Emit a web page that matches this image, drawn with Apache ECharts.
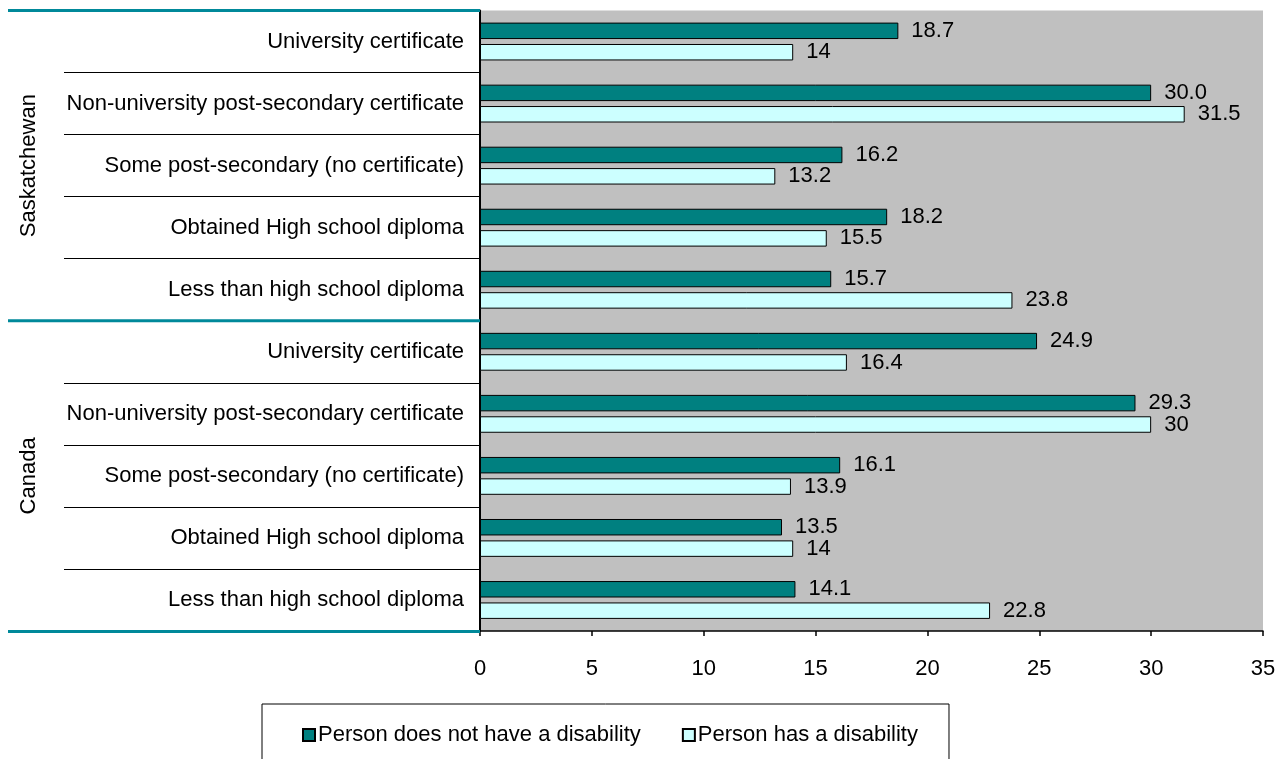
<!DOCTYPE html>
<html><head><meta charset="utf-8">
<script src="https://cdn.jsdelivr.net/npm/echarts@6/dist/echarts.min.js"></script>
<style>html,body{margin:0;padding:0;background:#fff}#c{width:1284px;height:759px}</style>
</head><body><div id="c"></div>
<script>
const groups = ['Saskatchewan', 'Canada'];
const categories = [
  'University certificate',
  'Non-university post-secondary certificate',
  'Some post-secondary (no certificate)',
  'Obtained High school diploma',
  'Less than high school diploma',
  'University certificate',
  'Non-university post-secondary certificate',
  'Some post-secondary (no certificate)',
  'Obtained High school diploma',
  'Less than high school diploma'
];
const noDisability = [18.7, 30.0, 16.2, 18.2, 15.7, 24.9, 29.3, 16.1, 13.5, 14.1];
const hasDisability = [14, 31.5, 13.2, 15.5, 23.8, 16.4, 30, 13.9, 14, 22.8];
const xTicks = [0, 5, 10, 15, 20, 25, 30, 35];

const FONT = 'Liberation Sans, Arial, sans-serif';
const chart = echarts.init(document.getElementById('c'), null, {renderer: 'canvas'});
chart.setOption({
  animation: false,
  textStyle: {fontFamily: FONT},
  grid: {left: 480, right: 21, top: 10.5, bottom: 128, show: true, backgroundColor: '#C0C0C0', borderWidth: 0},
  legend: {
    left: 262, top: 704,
    padding: [20, 31, 40, 40],
    borderColor: '#000', borderWidth: 1,
    itemWidth: 12, itemHeight: 12, itemGap: 41,
    icon: 'rect',
    textStyle: {fontSize: 22, color: '#000', fontFamily: FONT, padding: [0, 0, 0, -2]},
    data: ['Person does not have a disability', 'Person has a disability']
  },
  xAxis: {
    type: 'value', min: xTicks[0], max: xTicks[xTicks.length - 1], interval: 5,
    axisLine: {show: true, lineStyle: {color: '#000', width: 1.5}},
    axisTick: {show: true, length: 5, lineStyle: {color: '#000', width: 1.5}},
    axisLabel: {fontSize: 22, color: '#000', margin: 27, fontFamily: FONT},
    splitLine: {show: false}
  },
  yAxis: [
    {
      type: 'category', inverse: true, data: categories,
      axisLine: {show: true, lineStyle: {color: '#000', width: 2}},
      axisTick: {show: true, length: 416, lineStyle: {color: '#000', width: 1}},
      axisLabel: {fontSize: 22, color: '#000', margin: 16, fontFamily: FONT},
      splitLine: {show: false}
    },
    {
      type: 'category', inverse: true, data: groups, position: 'left', z: 5,
      axisLine: {show: false},
      axisTick: {show: true, length: 472, lineStyle: {color: '#00899A', width: 3}},
      axisLabel: {fontSize: 22, color: '#000', rotate: 90, margin: 440, fontFamily: FONT},
      splitLine: {show: false}
    }
  ],
  series: [
    {
      name: 'Person does not have a disability', type: 'bar', yAxisIndex: 0,
      data: noDisability,
      barCategoryGap: '39%', barGap: '30%',
      itemStyle: {color: '#008080', borderColor: '#000', borderWidth: 1},
      label: {show: true, position: 'right', distance: 13, fontSize: 22, color: '#000', fontFamily: FONT,
        formatter: p => p.value.toFixed(1)}
    },
    {
      name: 'Person has a disability', type: 'bar', yAxisIndex: 0,
      data: hasDisability,
      barCategoryGap: '39%', barGap: '30%',
      itemStyle: {color: '#CCFFFF', borderColor: '#000', borderWidth: 1},
      label: {show: true, position: 'right', distance: 13, fontSize: 22, color: '#000', fontFamily: FONT,
        formatter: p => String(p.value)}
    }
  ]
});
</script>
</body></html>
